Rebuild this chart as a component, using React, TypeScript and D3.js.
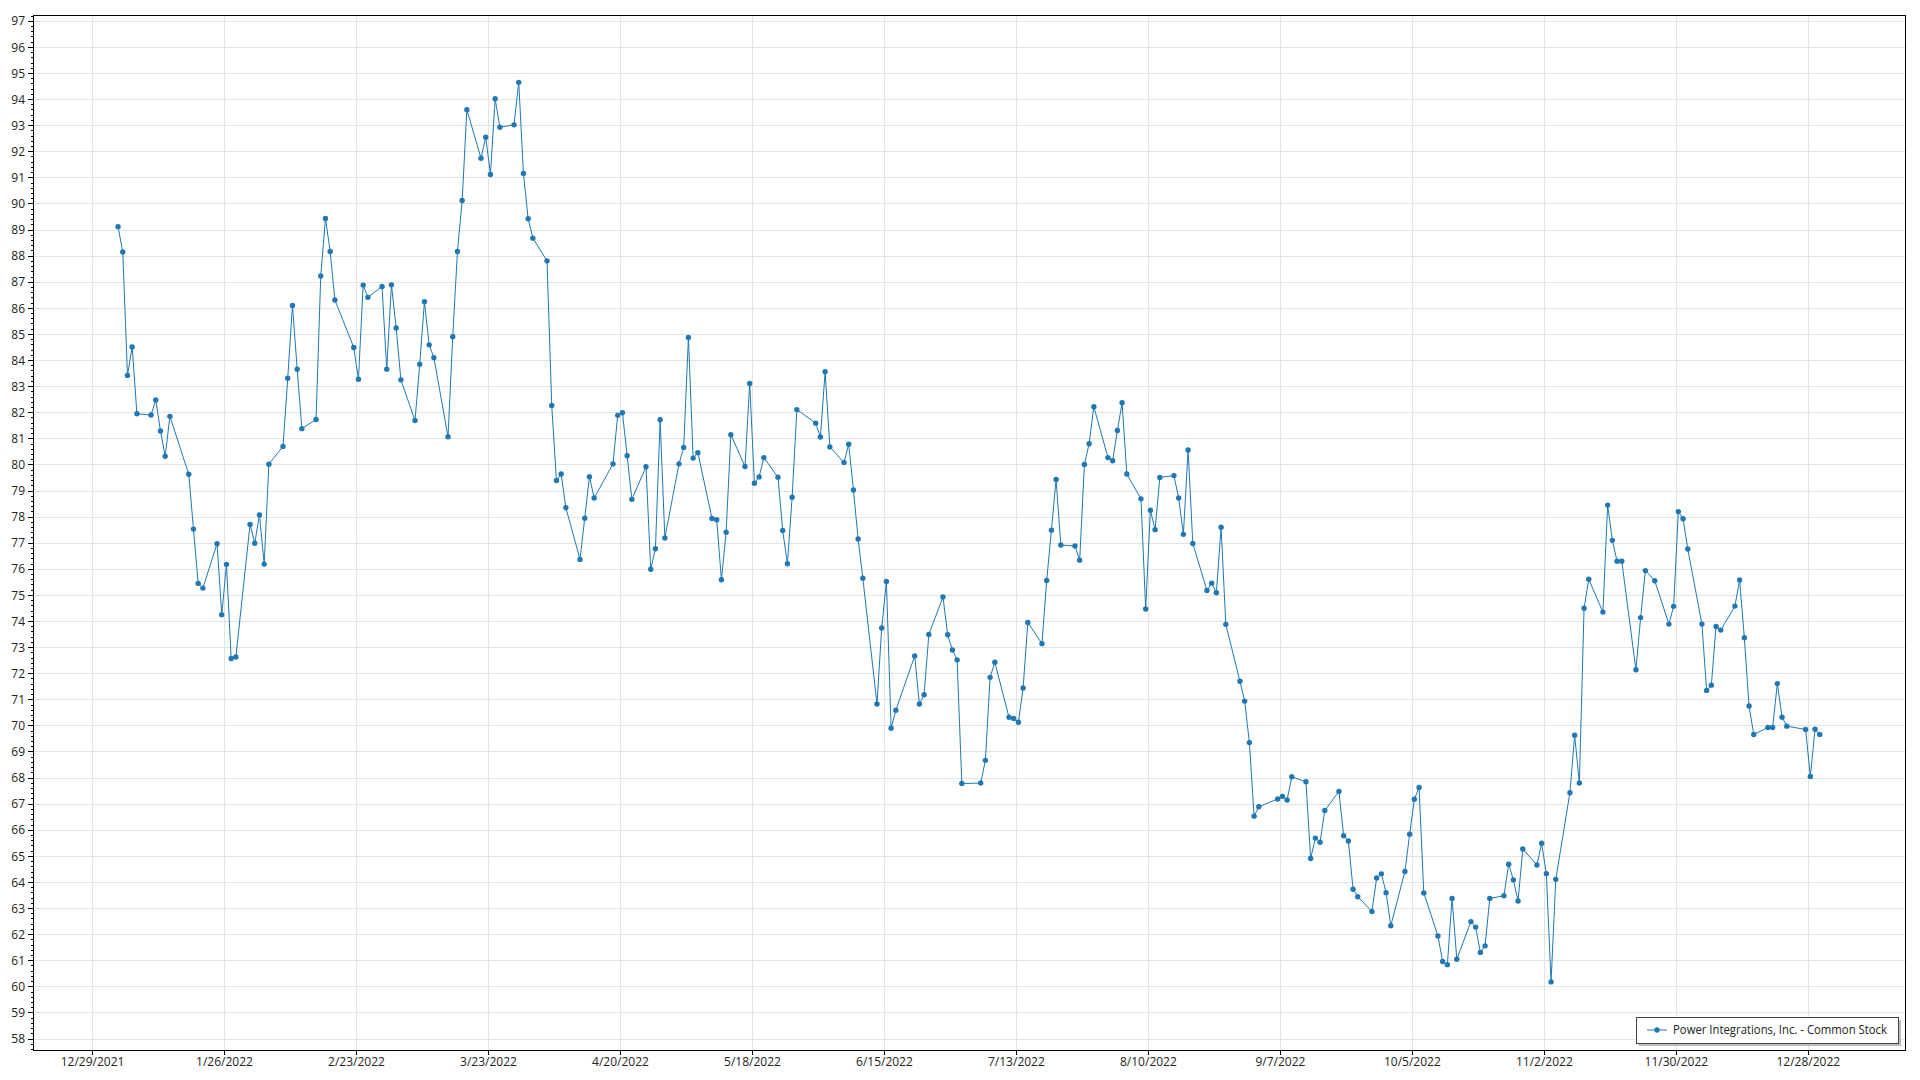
import * as d3 from 'd3';

// closing prices (2022 trading days)
const dates = [
  '1/3', '1/4', '1/5', '1/6', '1/7', '1/10', '1/11', '1/12', '1/13', '1/14',
  '1/18', '1/19', '1/20', '1/21', '1/24', '1/25', '1/26', '1/27', '1/28', '1/31',
  '2/1', '2/2', '2/3', '2/4', '2/7', '2/8', '2/9', '2/10', '2/11', '2/14',
  '2/15', '2/16', '2/17', '2/18', '2/22', '2/23', '2/24', '2/25', '2/28',
  '3/1', '3/2', '3/3', '3/4', '3/7', '3/8', '3/9', '3/10', '3/11', '3/14',
  '3/15', '3/16', '3/17', '3/18', '3/21', '3/22', '3/23', '3/24', '3/25', '3/28',
  '3/29', '3/30', '3/31', '4/1', '4/4', '4/5', '4/6', '4/7', '4/8', '4/11',
  '4/12', '4/13', '4/14', '4/18', '4/19', '4/20', '4/21', '4/22', '4/25', '4/26',
  '4/27', '4/28', '4/29', '5/2', '5/3', '5/4', '5/5', '5/6', '5/9', '5/10',
  '5/11', '5/12', '5/13', '5/16', '5/17', '5/18', '5/19', '5/20', '5/23', '5/24',
  '5/25', '5/26', '5/27', '5/31', '6/1', '6/2', '6/3', '6/6', '6/7', '6/8',
  '6/9', '6/10', '6/13', '6/14', '6/15', '6/16', '6/17', '6/21', '6/22', '6/23',
  '6/24', '6/27', '6/28', '6/29', '6/30', '7/1', '7/5', '7/6', '7/7', '7/8',
  '7/11', '7/12', '7/13', '7/14', '7/15', '7/18', '7/19', '7/20', '7/21', '7/22',
  '7/25', '7/26', '7/27', '7/28', '7/29', '8/1', '8/2', '8/3', '8/4', '8/5',
  '8/8', '8/9', '8/10', '8/11', '8/12', '8/15', '8/16', '8/17', '8/18', '8/19',
  '8/22', '8/23', '8/24', '8/25', '8/26', '8/29', '8/30', '8/31', '9/1', '9/2',
  '9/6', '9/7', '9/8', '9/9', '9/12', '9/13', '9/14', '9/15', '9/16', '9/19',
  '9/20', '9/21', '9/22', '9/23', '9/26', '9/27', '9/28', '9/29', '9/30', '10/3',
  '10/4', '10/5', '10/6', '10/7', '10/10', '10/11', '10/12', '10/13', '10/14', '10/17',
  '10/18', '10/19', '10/20', '10/21', '10/24', '10/25', '10/26', '10/27', '10/28', '10/31',
  '11/1', '11/2', '11/3', '11/4', '11/7', '11/8', '11/9', '11/10', '11/11', '11/14',
  '11/15', '11/16', '11/17', '11/18', '11/21', '11/22', '11/23', '11/25', '11/28', '11/29',
  '11/30', '12/1', '12/2', '12/5', '12/6', '12/7', '12/8', '12/9', '12/12', '12/13',
  '12/14', '12/15', '12/16', '12/19', '12/20', '12/21', '12/22', '12/23', '12/27', '12/28',
  '12/29', '12/30',
];

const prices = [
  89.13, 88.16, 83.43, 84.52, 81.96, 81.91, 82.49, 81.30, 80.33, 81.86,
  79.64, 77.54, 75.46, 75.28, 76.98, 74.26, 76.19, 72.58, 72.64, 77.72,
  77.00, 78.08, 76.20, 80.03, 80.71, 83.32, 86.11, 83.67, 81.39, 81.74,
  87.24, 89.44, 88.18, 86.32, 84.50, 83.28, 86.89, 86.42, 86.84,
  83.67, 86.90, 85.25, 83.26, 81.70, 83.86, 86.25, 84.60, 84.11, 81.08,
  84.91, 88.18, 90.13, 93.61, 91.75, 92.56, 91.13, 94.03, 92.94, 93.03,
  94.66, 91.17, 89.43, 88.69, 87.82, 82.28, 79.40, 79.65, 78.36, 76.38,
  77.96, 79.55, 78.73, 80.04, 81.90, 82.00, 80.35, 78.68, 79.93, 76.00,
  76.79, 81.73, 77.20, 80.04, 80.67, 84.88, 80.26, 80.47, 77.95, 77.90,
  75.60, 77.42, 81.16, 79.94, 83.12, 79.30, 79.54, 80.28, 79.53, 77.49,
  76.21, 78.76, 82.12, 81.60, 81.07, 83.57, 80.69, 80.09, 80.79, 79.04,
  77.16, 75.66, 70.84, 73.75, 75.53, 69.91, 70.60, 72.68, 70.84, 71.19,
  73.50, 74.94, 73.49, 72.91, 72.53, 67.79, 67.81, 68.68, 71.86, 72.44,
  70.33, 70.28, 70.14, 71.45, 73.96, 73.15, 75.57, 77.50, 79.44, 76.93,
  76.89, 76.35, 80.02, 80.81, 82.23, 80.28, 80.16, 81.32, 82.38, 79.65,
  78.70, 74.48, 78.26, 77.52, 79.52, 79.59, 78.73, 77.34, 80.57, 76.99,
  75.19, 75.47, 75.10, 77.61, 73.89, 71.71, 70.95, 69.36, 66.54, 66.90,
  67.20, 67.30, 67.16, 68.05, 67.86, 64.92, 65.70, 65.54, 66.76, 67.49,
  65.79, 65.59, 63.74, 63.45, 62.89, 64.17, 64.33, 63.61, 62.34, 64.42,
  65.85, 67.19, 67.64, 63.60, 61.95, 60.97, 60.85, 63.39, 61.06, 62.50,
  62.29, 61.32, 61.57, 63.39, 63.49, 64.70, 64.10, 63.29, 65.28, 64.67,
  65.50, 64.34, 60.19, 64.12, 67.44, 69.64, 67.81, 74.51, 75.62, 74.36,
  78.46, 77.11, 76.31, 76.31, 72.15, 74.15, 75.95, 75.56, 73.90, 74.58,
  78.21, 77.94, 76.78, 73.90, 71.36, 71.56, 73.81, 73.67, 74.59, 75.59,
  73.38, 70.76, 69.67, 69.94, 69.94, 71.62, 70.33, 69.99, 69.86, 68.06,
  69.87, 69.67,
];

const xTickLabels = [
  '12/29/2021', '1/26/2022', '2/23/2022', '3/23/2022', '4/20/2022', '5/18/2022',
  '6/15/2022', '7/13/2022', '8/10/2022', '9/7/2022', '10/5/2022', '11/2/2022',
  '11/30/2022', '12/28/2022',
];

const seriesName = 'Power Integrations, Inc. - Common Stock';

const W = 1920;
const H = 1080;
const plot = { left: 33, right: 1905, top: 15, bottom: 1050 };
const lineColor = '#1f77b4';
const font = '"Open Sans", "Noto Sans", sans-serif';

const parse = d3.timeParse('%m/%d/%Y %H');

export default function App() {
  // quotes sit a little after midnight on the time axis
  const points = dates.map((d, i) => ({ date: parse(`${d}/2022 10`) as Date, value: prices[i] }));
  const tickDates = xTickLabels.map(t => parse(`${t} 0`) as Date);

  const x = d3.scaleTime()
    .domain([new Date(2021, 11, 16, 9), new Date(2023, 0, 17, 12)])
    .range([plot.left, plot.right]);
  const y = d3.scaleLinear().domain([57.58, 97.24]).range([plot.bottom, plot.top]);

  const yTicks = d3.range(58, 98);
  const yMinor = d3.range(57.6, 97.21, 0.2).filter(v => Math.abs(v - Math.round(v)) > 0.05);

  const line = d3.line<{ date: Date; value: number }>()
    .x(d => x(d.date))
    .y(d => y(d.value));

  const legend = { x: 1636, y: 1017, w: 262, h: 26 };

  return (
    <svg width={W} height={H} style={{ position: 'absolute', left: 0, top: 0, background: '#fff' }}
      fontFamily={font}>
      <rect x={0} y={0} width={W} height={H} fill="#fff" />
      {/* grid */}
      <g stroke="#e3e3e3" strokeWidth={1} shapeRendering="crispEdges">
        {yTicks.map(v => (
          <line key={`gy${v}`} x1={plot.left} x2={plot.right} y1={y(v)} y2={y(v)} />
        ))}
        {tickDates.map((d, i) => (
          <line key={`gx${i}`} x1={x(d)} x2={x(d)} y1={plot.top} y2={plot.bottom} />
        ))}
      </g>

      {/* axes ticks */}
      <g stroke="#000" shapeRendering="crispEdges">
        {yTicks.map(v => (
          <line key={`ty${v}`} x1={plot.left - 5} x2={plot.left} y1={y(v)} y2={y(v)} />
        ))}
        {yMinor.map((v, i) => (
          <line key={`my${i}`} x1={plot.left - 2} x2={plot.left} y1={y(v)} y2={y(v)} />
        ))}
        {tickDates.map((d, i) => (
          <line key={`tx${i}`} x1={x(d)} x2={x(d)} y1={plot.bottom} y2={plot.bottom + 5} />
        ))}
      </g>
      <g fontSize={12} fill="#222" textAnchor="end">
        {yTicks.map(v => (
          <text key={`ly${v}`} x={plot.left - 8} y={y(v)} dy="0.35em">{v}</text>
        ))}
      </g>
      <g fontSize={12} fill="#222" textAnchor="middle">
        {tickDates.map((d, i) => (
          <text key={`lx${i}`} x={x(d)} y={plot.bottom + 16}>{xTickLabels[i]}</text>
        ))}
      </g>

      {/* series */}
      <path d={line(points) || ''} fill="none" stroke={lineColor} strokeWidth={1} />
      <g fill={lineColor}>
        {points.map((p, i) => (
          <circle key={i} cx={x(p.date)} cy={y(p.value)} r={2.7} />
        ))}
      </g>

      {/* frame */}
      <rect x={plot.left} y={plot.top} width={plot.right - plot.left} height={plot.bottom - plot.top}
        fill="none" stroke="#000" strokeWidth={1} shapeRendering="crispEdges" />

      {/* legend */}
      <rect x={legend.x + 3} y={legend.y + 3} width={legend.w} height={legend.h} fill="#bdbdbd" />
      <rect x={legend.x} y={legend.y} width={legend.w} height={legend.h} fill="#fff"
        stroke="#444" strokeWidth={1} shapeRendering="crispEdges" />
      <line x1={legend.x + 11} x2={legend.x + 31} y1={legend.y + 13} y2={legend.y + 13}
        stroke={lineColor} strokeWidth={1} />
      <circle cx={legend.x + 21} cy={legend.y + 13} r={2.7} fill={lineColor} />
      <text x={legend.x + 37} y={legend.y + 13} dy="0.35em" fontSize={12} fill="#222"
        textLength={214} lengthAdjust="spacingAndGlyphs">{seriesName}</text>
    </svg>
  );
}
